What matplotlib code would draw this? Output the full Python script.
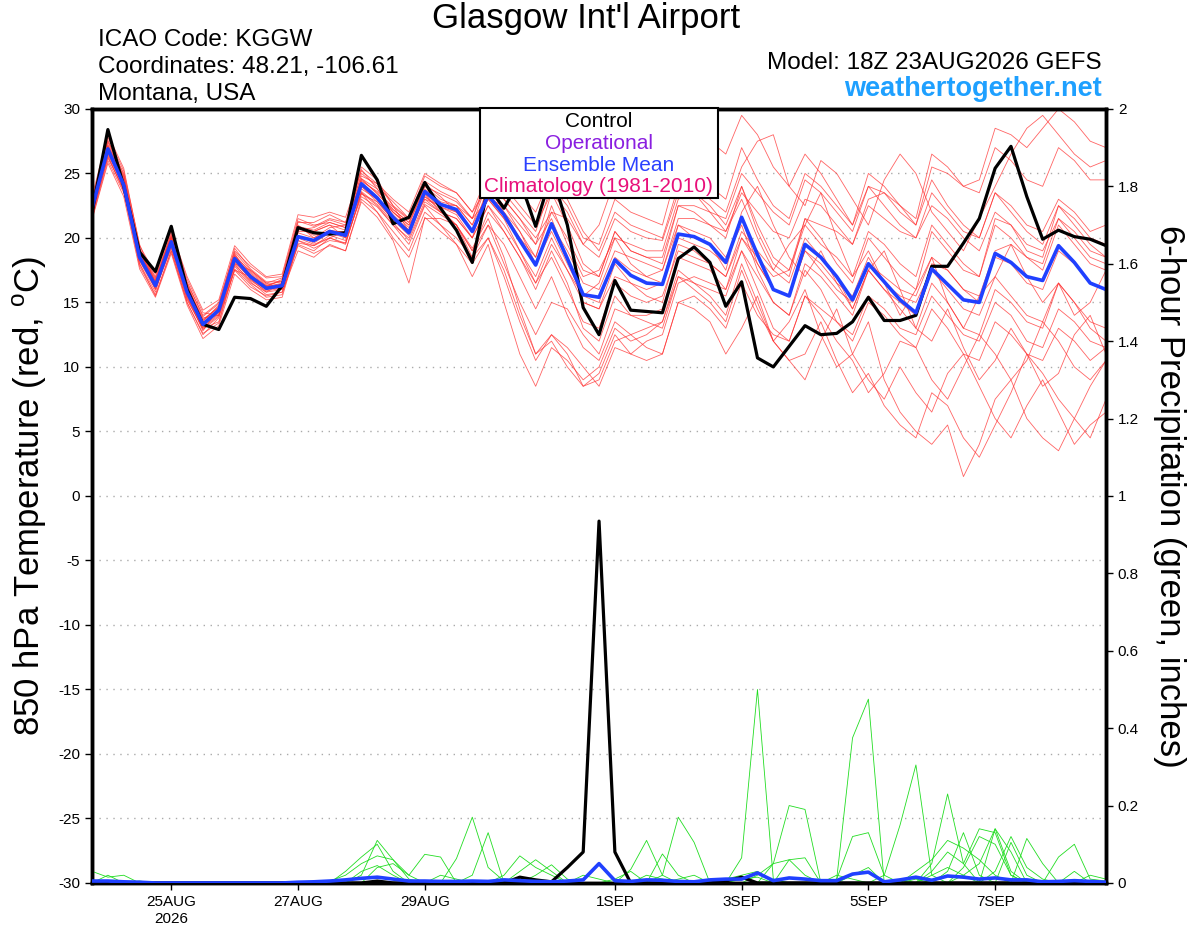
import numpy as np
import pandas as pd
import matplotlib
matplotlib.use('Agg')
import matplotlib.pyplot as plt
from matplotlib.patches import Rectangle

plt.rcParams['font.family'] = ['Liberation Sans', 'DejaVu Sans']
plt.rcParams['axes.unicode_minus'] = False

# 6-hourly GEFS times, 18Z 23AUG2026 -> 18Z 08SEP2026
times = pd.date_range('2026-08-23 18:00', periods=65, freq='6h')

tick_days = ['2026-08-25', '2026-08-27', '2026-08-29', '2026-09-01',
             '2026-09-03', '2026-09-05', '2026-09-07']
tick_labels = ['25AUG\n2026', '27AUG', '29AUG', '1SEP', '3SEP', '5SEP', '7SEP']

# ensemble mean 850 hPa temperature (C)
mean_temp = [22.3, 26.9, 24.1, 18.5, 16.3, 19.7, 15.8, 13.3, 14.4, 18.4, 17.0, 16.1, 16.3,
             20.1, 19.8, 20.5, 20.2, 24.2, 23.1, 21.6, 20.4, 23.6, 22.6, 22.2, 20.5, 23.3,
             21.8, 19.8, 17.9, 21.1, 18.4, 15.6, 15.4, 18.3, 17.1, 16.5, 16.4, 20.3, 20.1,
             19.5, 18.1, 21.6, 18.7, 16.0, 15.5, 19.5, 18.5, 17.0, 15.2, 18.0, 16.6, 15.2,
             14.2, 17.6, 16.4, 15.2, 15.0, 18.8, 18.1, 17.0, 16.7, 19.4, 18.1, 16.5, 16.0]

# control run 850 hPa temperature (C)
ctrl_temp = [22.0, 28.4, 24.0, 18.9, 17.4, 20.9, 16.0, 13.3, 12.9, 15.4, 15.3, 14.7, 16.3,
             20.8, 20.4, 20.3, 20.4, 26.4, 24.5, 21.1, 21.6, 24.3, 22.3, 20.6, 18.1, 24.0,
             22.3, 24.5, 20.9, 25.0, 21.0, 14.6, 12.5, 16.7, 14.4, 14.3, 14.2, 18.4, 19.3,
             18.1, 14.7, 16.6, 10.7, 10.0, 11.6, 13.2, 12.5, 12.6, 13.5, 15.4, 13.6, 13.6,
             14.0, 17.8, 17.8, 19.6, 21.5, 25.4, 27.1, 23.2, 19.9, 20.6, 20.1, 19.9, 19.4]

# individual members (C)
member_temp = [
    [22.8, 27.5, 25.0, 19.2, 17.0, 20.3, 16.5, 14.0, 15.0, 19.0, 17.8, 16.9, 17.0,
     21.5, 21.0, 21.2, 20.8, 25.0, 24.0, 22.8, 21.5, 24.8, 24.0, 23.5, 22.0, 25.0,
     24.0, 22.5, 21.0, 23.5, 22.0, 19.5, 18.5, 21.5, 20.5, 20.0, 19.8, 23.5, 24.0,
     23.0, 22.0, 25.5, 27.5, 28.0, 24.0, 22.5, 26.0, 25.0, 23.0, 21.0, 24.5, 26.5,
     25.0, 22.0, 20.5, 19.0, 21.5, 24.0, 26.5, 28.5, 29.5, 28.0, 26.5, 25.5, 26.0],
    [21.5, 26.0, 23.5, 18.0, 15.5, 19.0, 15.0, 12.5, 13.8, 17.5, 16.2, 15.5, 15.8,
     19.0, 18.5, 19.5, 19.0, 23.0, 22.0, 20.5, 19.0, 22.0, 21.0, 20.0, 18.5, 21.0,
     19.5, 17.0, 14.5, 17.0, 14.0, 11.5, 10.5, 13.5, 12.5, 11.5, 11.0, 15.0, 14.5,
     13.5, 11.0, 13.0, 15.5, 12.0, 10.5, 9.0, 12.0, 14.5, 11.0, 9.0, 7.5, 10.0,
     8.0, 6.5, 9.5, 11.0, 8.5, 6.0, 4.5, 7.0, 9.0, 6.5, 4.0, 5.5, 6.5],
    [22.0, 27.0, 24.5, 18.8, 16.0, 19.5, 16.2, 13.8, 14.0, 18.0, 17.5, 16.5, 16.0,
     20.5, 20.5, 21.0, 20.0, 24.5, 23.5, 22.0, 21.0, 23.0, 22.0, 21.5, 20.0, 24.0,
     23.0, 21.5, 19.5, 23.5, 21.0, 18.0, 17.0, 20.5, 19.0, 18.5, 18.0, 22.5, 22.0,
     21.0, 20.0, 24.0, 20.5, 18.0, 17.0, 21.5, 20.0, 18.0, 16.5, 20.0, 18.5, 17.0,
     16.0, 20.5, 19.0, 17.5, 17.0, 21.0, 20.0, 18.5, 18.0, 21.5, 20.0, 18.5, 18.0],
    [22.5, 26.5, 24.0, 18.0, 15.8, 19.8, 15.5, 12.8, 14.5, 18.8, 16.8, 15.8, 16.5,
     20.0, 19.5, 20.0, 20.5, 23.5, 22.5, 21.0, 19.5, 22.5, 21.0, 19.5, 17.0, 19.5,
     15.0, 11.0, 8.5, 11.5, 10.5, 9.0, 10.0, 13.0, 12.0, 12.5, 13.5, 17.0, 16.5,
     16.0, 15.5, 19.0, 17.0, 15.0, 14.0, 18.0, 17.0, 15.5, 14.0, 17.5, 16.0, 14.5,
     13.0, 16.5, 15.0, 13.0, 12.5, 16.0, 15.0, 13.5, 13.0, 16.5, 15.0, 13.5, 13.0],
    [22.2, 27.2, 24.8, 19.0, 16.8, 20.0, 16.0, 13.5, 14.8, 18.5, 17.2, 16.2, 16.8,
     21.0, 20.0, 20.8, 21.0, 24.0, 23.0, 22.0, 21.0, 24.0, 23.0, 22.5, 21.0, 24.5,
     23.5, 22.0, 20.5, 24.0, 22.5, 20.0, 19.5, 23.0, 22.0, 21.5, 21.0, 25.5, 25.0,
     24.0, 23.0, 27.0, 24.5, 22.5, 21.5, 25.0, 24.0, 22.5, 21.0, 25.0, 24.0, 22.5,
     21.5, 26.5, 25.5, 24.0, 24.5, 28.5, 28.0, 27.0, 28.5, 30.0, 29.0, 27.5, 27.0],
    [21.8, 26.2, 23.8, 18.2, 16.0, 19.2, 15.2, 13.0, 13.5, 17.8, 16.5, 15.8, 16.0,
     19.5, 19.0, 20.0, 19.5, 23.5, 22.0, 20.0, 18.5, 21.5, 21.5, 21.0, 19.0, 22.0,
     20.5, 18.5, 16.0, 19.0, 16.5, 13.0, 12.0, 15.5, 14.0, 13.5, 13.0, 17.0, 16.0,
     15.0, 13.5, 17.5, 14.5, 12.0, 13.5, 16.0, 12.5, 10.0, 11.0, 13.5, 9.0, 6.5,
     5.0, 4.0, 5.5, 1.5, 4.0, 7.5, 9.0, 6.0, 4.5, 3.5, 6.0, 8.5, 10.5],
    [23.0, 27.8, 25.2, 19.5, 16.5, 20.5, 16.8, 14.2, 14.0, 17.5, 17.0, 16.0, 16.2,
     20.8, 20.2, 20.5, 20.5, 25.5, 24.5, 22.5, 20.5, 23.0, 22.5, 22.5, 21.5, 23.0,
     22.5, 21.0, 19.5, 21.5, 18.5, 15.0, 14.5, 18.0, 16.5, 15.5, 15.0, 19.5, 19.0,
     18.0, 17.0, 20.5, 19.0, 17.5, 16.5, 20.0, 18.5, 17.0, 14.5, 17.5, 16.0, 15.0,
     14.0, 18.0, 17.5, 16.0, 15.5, 19.0, 19.5, 18.5, 17.5, 21.0, 19.5, 18.0, 17.5],
    [22.0, 26.8, 24.2, 18.4, 16.2, 19.5, 15.8, 13.2, 14.2, 18.2, 16.8, 16.0, 16.4,
     20.2, 19.6, 20.4, 20.0, 24.0, 22.8, 21.4, 20.2, 23.2, 22.2, 21.0, 19.2, 21.5,
     18.5, 14.5, 11.0, 12.5, 11.5, 10.0, 8.5, 11.5, 11.0, 12.0, 12.5, 16.5, 17.0,
     16.5, 16.0, 20.0, 18.5, 17.0, 17.5, 21.5, 21.0, 20.5, 19.5, 23.0, 23.5, 22.0,
     21.0, 24.5, 22.5, 21.0, 20.0, 23.5, 22.0, 20.5, 19.5, 22.5, 21.0, 19.5, 18.5],
    [22.6, 27.0, 24.4, 18.8, 16.6, 20.2, 16.2, 13.6, 14.6, 19.2, 17.6, 16.6, 16.6,
     21.2, 21.2, 21.8, 21.2, 24.8, 24.2, 22.5, 21.5, 24.2, 23.2, 22.0, 20.5, 24.0,
     22.0, 20.0, 18.5, 22.5, 19.5, 17.0, 17.5, 20.0, 18.0, 17.0, 16.5, 21.0, 20.0,
     19.5, 17.5, 22.0, 24.0, 21.0, 18.5, 17.0, 19.0, 16.5, 14.5, 17.5, 19.0, 16.0,
     13.0, 12.0, 14.5, 11.5, 9.0, 10.5, 13.0, 11.0, 8.5, 9.5, 12.5, 14.0, 11.0],
    [21.6, 26.4, 23.6, 17.8, 15.6, 19.0, 15.0, 12.6, 13.4, 17.6, 16.4, 15.4, 15.6,
     19.8, 19.4, 20.2, 19.8, 23.2, 22.4, 21.0, 20.0, 22.8, 22.0, 21.5, 20.0, 22.5,
     21.0, 19.0, 17.0, 20.0, 17.5, 15.0, 14.5, 17.0, 16.5, 16.0, 16.5, 20.0, 19.5,
     19.0, 18.0, 21.5, 18.0, 16.0, 15.5, 19.0, 18.0, 16.5, 15.5, 18.5, 16.5, 15.5,
     15.0, 17.5, 16.0, 14.5, 14.0, 17.0, 15.5, 14.0, 13.5, 16.5, 15.0, 13.0, 12.0],
    [22.4, 27.2, 24.6, 19.0, 16.4, 19.8, 16.4, 13.4, 14.4, 18.6, 17.4, 16.4, 16.6,
     20.6, 20.8, 21.4, 21.0, 24.4, 23.6, 22.4, 21.4, 24.4, 23.6, 23.0, 21.5, 24.5,
     23.0, 21.5, 20.0, 22.0, 21.5, 19.5, 21.0, 24.5, 24.0, 25.0, 26.0, 28.5, 29.0,
     27.5, 26.5, 29.5, 28.0, 25.5, 24.0, 26.5, 25.0, 23.0, 21.0, 24.0, 22.5, 21.0,
     20.0, 23.5, 22.0, 20.5, 20.0, 23.5, 22.5, 21.0, 20.5, 23.0, 22.0, 20.5, 21.0],
    [21.9, 26.6, 23.9, 18.6, 16.4, 19.6, 15.6, 13.1, 14.1, 18.1, 16.9, 16.1, 16.1,
     19.8, 19.2, 19.8, 19.6, 23.6, 22.6, 21.2, 19.8, 22.6, 21.8, 21.0, 19.0, 21.0,
     18.0, 15.0, 12.5, 15.0, 14.5, 12.5, 11.0, 14.5, 14.0, 14.0, 14.5, 18.5, 18.0,
     17.5, 16.0, 19.0, 16.0, 13.0, 12.0, 15.5, 14.0, 12.0, 10.5, 8.0, 9.5, 12.0,
     11.5, 9.0, 7.5, 10.0, 12.5, 11.0, 9.0, 10.5, 13.5, 12.0, 10.0, 9.0, 10.5],
    [23.2, 28.0, 25.4, 19.4, 17.2, 20.6, 17.0, 14.4, 15.2, 19.4, 18.0, 17.0, 17.2,
     21.8, 21.6, 22.0, 21.6, 25.2, 24.2, 23.0, 22.0, 25.0, 24.2, 23.5, 22.0, 24.0,
     22.5, 20.5, 18.0, 21.0, 19.0, 16.5, 16.0, 19.0, 18.5, 18.0, 17.5, 21.5, 21.5,
     21.0, 20.5, 23.5, 22.0, 20.5, 20.0, 23.0, 22.5, 21.0, 19.5, 22.5, 21.5, 20.5,
     20.0, 22.5, 21.5, 20.0, 19.0, 22.0, 21.0, 19.5, 19.0, 21.5, 20.5, 19.0, 18.5],
    [22.1, 26.9, 24.2, 18.6, 16.3, 19.4, 15.4, 13.0, 14.0, 18.0, 16.6, 15.6, 15.8,
     19.4, 18.8, 19.4, 19.0, 22.8, 21.6, 19.8, 16.5, 21.6, 20.5, 19.5, 18.0, 20.0,
     17.5, 14.0, 11.0, 12.0, 10.0, 8.5, 9.0, 12.0, 12.5, 13.0, 13.5, 17.5, 16.5,
     15.5, 14.0, 18.0, 15.0, 12.0, 10.5, 11.0, 13.5, 10.5, 8.0, 9.5, 7.0, 5.5,
     4.5, 8.0, 7.0, 4.5, 3.0, 5.5, 8.0, 11.0, 9.5, 7.5, 6.0, 4.5, 7.5],
    [22.7, 27.4, 24.7, 18.9, 16.7, 20.0, 16.4, 13.6, 14.7, 18.7, 17.3, 16.3, 16.7,
     20.7, 20.5, 21.0, 20.6, 24.6, 23.4, 22.2, 21.2, 23.8, 22.8, 22.5, 21.0, 23.5,
     22.0, 20.5, 18.5, 22.0, 20.0, 17.5, 17.0, 20.5, 19.0, 18.5, 18.5, 22.5, 22.5,
     22.0, 21.5, 25.0, 23.5, 22.0, 21.0, 24.5, 23.5, 22.0, 20.5, 24.0, 23.5, 22.5,
     21.0, 25.5, 25.0, 24.0, 23.5, 27.0, 26.0, 24.5, 24.0, 27.0, 26.0, 24.5, 24.5],
    [21.7, 26.3, 23.7, 18.3, 16.1, 19.3, 15.3, 12.9, 13.9, 17.9, 16.7, 15.9, 16.1,
     20.0, 19.8, 20.6, 20.2, 23.8, 23.0, 21.6, 20.6, 23.4, 22.4, 22.0, 20.5, 23.0,
     21.5, 20.0, 18.0, 20.5, 18.0, 15.5, 15.0, 18.5, 17.5, 17.0, 17.5, 21.0, 20.5,
     20.0, 18.5, 21.0, 17.5, 15.0, 14.0, 17.5, 16.0, 13.5, 12.5, 15.5, 14.5, 13.0,
     12.5, 15.5, 14.0, 12.5, 12.0, 15.0, 14.0, 12.0, 11.5, 14.5, 13.5, 12.0, 11.5],
    [22.9, 27.6, 24.9, 19.1, 16.9, 20.1, 16.6, 13.9, 14.9, 18.9, 17.5, 16.5, 16.9,
     21.3, 20.9, 21.5, 21.2, 25.3, 23.8, 22.0, 20.8, 23.6, 22.6, 22.0, 20.5, 23.0,
     21.5, 19.0, 16.5, 19.5, 17.5, 15.5, 16.5, 20.0, 19.5, 19.0, 19.0, 23.0, 23.5,
     22.5, 21.0, 24.0, 21.0, 18.5, 17.5, 21.0, 19.5, 18.5, 17.0, 20.5, 19.5, 18.0,
     17.0, 21.0, 19.5, 18.0, 17.0, 21.5, 21.0, 19.0, 18.5, 22.5, 21.5, 20.0, 19.5],
    [22.3, 26.7, 24.3, 18.7, 16.5, 19.9, 15.9, 13.4, 14.3, 18.3, 17.1, 16.3, 16.4,
     20.4, 20.0, 20.6, 20.4, 24.2, 23.2, 21.8, 20.6, 23.4, 22.0, 21.0, 18.5, 20.0,
     17.0, 13.5, 10.5, 12.5, 11.0, 8.5, 9.5, 12.5, 11.0, 10.5, 11.0, 15.0, 15.5,
     14.5, 13.0, 16.5, 14.0, 12.5, 12.0, 15.5, 14.5, 13.5, 12.0, 15.0, 14.0, 12.5,
     11.5, 14.5, 13.0, 11.0, 10.5, 13.5, 12.5, 11.0, 10.5, 13.0, 12.0, 10.5, 11.5],
    [22.5, 27.1, 24.5, 18.9, 16.6, 20.1, 16.1, 13.7, 14.6, 18.6, 17.1, 16.2, 16.5,
     20.9, 20.6, 21.2, 20.8, 24.6, 23.8, 22.2, 21.2, 24.0, 23.4, 22.8, 21.5, 25.0,
     24.5, 23.5, 22.0, 25.0, 23.0, 20.5, 19.0, 22.0, 21.0, 20.5, 20.0, 24.0, 23.5,
     22.0, 20.5, 23.0, 20.0, 17.5, 19.5, 21.0, 23.5, 20.0, 17.0, 19.0, 16.5, 14.0,
     16.0, 18.5, 15.0, 13.0, 15.5, 17.0, 19.5, 17.0, 15.0, 16.5, 14.0, 15.0, 17.5],
    [21.4, 25.8, 23.2, 17.6, 15.4, 18.8, 14.8, 12.2, 13.2, 17.2, 16.0, 15.2, 15.4,
     19.6, 19.4, 20.0, 19.6, 23.4, 22.8, 21.4, 20.4, 23.2, 22.4, 21.8, 20.0, 22.5,
     20.5, 18.5, 16.5, 18.5, 16.0, 13.5, 13.0, 16.5, 15.5, 15.0, 15.5, 19.0, 18.5,
     18.0, 17.0, 20.0, 18.0, 16.0, 15.5, 19.0, 17.5, 16.0, 15.0, 18.0, 17.0, 16.0,
     15.5, 18.5, 17.5, 16.0, 15.0, 18.5, 18.0, 16.5, 16.0, 19.0, 18.0, 16.5, 16.0],
]

# 6-hour precipitation (inches): ensemble mean and control
mean_precip = [0.005, 0.005, 0.003, 0.002, 0, 0, 0, 0, 0, 0, 0, 0, 0,
               0.002, 0.003, 0.005, 0.008, 0.012, 0.015, 0.01, 0.005, 0.005, 0.004, 0.004, 0.005, 0.004,
               0.008, 0.006, 0.004, 0.003, 0.005, 0.008, 0.05, 0.006, 0.004, 0.008, 0.007, 0.004, 0.003,
               0.008, 0.01, 0.01, 0.026, 0.006, 0.013, 0.01, 0.006, 0.006, 0.023, 0.028, 0.003, 0.008,
               0.015, 0.007, 0.018, 0.015, 0.01, 0.013, 0.008, 0.008, 0.003, 0.004, 0.006, 0.004, 0.002]

ctrl_precip = [0, 0, 0, 0, 0, 0, 0, 0, 0, 0, 0, 0, 0,
               0, 0, 0, 0, 0, 0.005, 0, 0, 0, 0, 0, 0, 0,
               0, 0.015, 0.008, 0.003, 0.04, 0.08, 0.935, 0.08, 0, 0, 0, 0, 0,
               0, 0.005, 0.015, 0, 0, 0, 0, 0, 0, 0, 0, 0, 0,
               0, 0, 0, 0, 0, 0, 0, 0, 0, 0, 0, 0, 0]

# member precipitation, nonzero 6-h steps only: (step, inches)
member_precip = [
    [(0, 0.03), (1, 0.015), (2, 0.02), (17, 0.02), (18, 0.11), (19, 0.06), (20, 0.01),
     (41, 0.065), (42, 0.50), (43, 0.01), (55, 0.02), (56, 0.05), (57, 0.14), (58, 0.03)],
    [(1, 0.02), (3, 0.005), (16, 0.03), (17, 0.067), (18, 0.10), (19, 0.03), (23, 0.063),
     (24, 0.17), (25, 0.04), (26, 0.005), (47, 0.01), (48, 0.375), (49, 0.475)],
    [(15, 0.005), (16, 0.02), (17, 0.05), (18, 0.07), (19, 0.06), (20, 0.02), (21, 0.074),
     (22, 0.067), (36, 0.02), (37, 0.17), (38, 0.105), (54, 0.03), (55, 0.13), (56, 0.02)],
    [(17, 0.03), (18, 0.045), (19, 0.02), (24, 0.02), (25, 0.13), (43, 0.05), (44, 0.20),
     (45, 0.19), (57, 0.14), (58, 0.08)],
    [(18, 0.04), (19, 0.05), (20, 0.02), (26, 0.02), (27, 0.07), (28, 0.04), (29, 0.02),
     (34, 0.035), (35, 0.11), (36, 0.02), (50, 0.02), (51, 0.15), (52, 0.305), (53, 0.02)],
    [(27, 0.03), (28, 0.06), (29, 0.03), (36, 0.075), (37, 0.02), (47, 0.01), (48, 0.12),
     (49, 0.13), (50, 0.02), (53, 0.05), (54, 0.23), (55, 0.05)],
    [(28, 0.02), (29, 0.047), (30, 0.01), (33, 0.01), (34, 0.03), (44, 0.06), (45, 0.065),
     (58, 0.105), (59, 0.02), (61, 0.067), (62, 0.10), (63, 0.01), (64, 0.005)],
    [(22, 0.02), (23, 0.01), (31, 0.02), (32, 0.01), (40, 0.01), (41, 0.02), (42, 0.03),
     (52, 0.03), (53, 0.06), (54, 0.11), (55, 0.09), (56, 0.06), (57, 0.02), (59, 0.115),
     (60, 0.05)],
    [(35, 0.02), (36, 0.01), (42, 0.02), (43, 0.05), (44, 0.06), (45, 0.02), (48, 0.02),
     (49, 0.04), (52, 0.01), (55, 0.04), (56, 0.12), (57, 0.10), (58, 0.02), (63, 0.02),
     (64, 0.01)],
    [(37, 0.01), (38, 0.02), (41, 0.01), (42, 0.015), (51, 0.01), (53, 0.03), (54, 0.08),
     (55, 0.05), (56, 0.14), (57, 0.13), (58, 0.02), (62, 0.03)],
    [(47, 0.02), (48, 0.01), (53, 0.02), (54, 0.04), (55, 0.02), (57, 0.03), (58, 0.12),
     (59, 0.04), (60, 0.01)],
]


def main():
    fig = plt.figure(figsize=(12, 9.27), dpi=100)
    ax = fig.add_axes([0.0767, 0.0475, 0.845, 0.835])
    ax2 = ax.twinx()

    for m in member_temp:
        ax.plot(times, m, color='#ff3030', lw=0.6, alpha=0.75, zorder=2)

    for m in member_precip:
        p = np.zeros(len(times))
        for k, v in m:
            p[k] = v
        ax2.plot(times, p, color='#22dd22', lw=0.6, zorder=2)

    ax2.plot(times, ctrl_precip, color='black', lw=2.3, zorder=4)
    ax2.plot(times, mean_precip, color='#2040ff', lw=2.6, zorder=5)

    ax.plot(times, ctrl_temp, color='black', lw=2.3, zorder=4)
    ax.plot(times, mean_temp, color='#2040ff', lw=2.6, zorder=5)

    ax.set_xlim(times[0], times[-1])
    ax.set_ylim(-30, 30)
    ax2.set_ylim(0, 2)
    ax.set_yticks(np.arange(-30, 31, 5))
    ax2.set_yticks(np.arange(0, 2.01, 0.2))
    ax2.set_yticklabels(['0', '0.2', '0.4', '0.6', '0.8', '1', '1.2', '1.4', '1.6', '1.8', '2'])
    ax.set_xticks(pd.to_datetime(tick_days))
    ax.set_xticklabels(tick_labels)

    for y in range(-25, 30, 5):
        ax.axhline(y, color='#aaaaaa', lw=1.0, ls=(0, (1, 4)), zorder=1)

    for a in (ax, ax2):
        for s in a.spines.values():
            s.set_linewidth(2.5)
        a.tick_params(labelsize=11, width=1, length=5, direction='out')
    ax.tick_params(axis='x', pad=4)

    ax.set_ylabel('850 hPa Temperature (red, $^{\\mathregular{o}}$C)', fontsize=25,
                  ha='center', va='center')
    ax.yaxis.set_label_coords(-0.061, 0.5)
    ax2.set_ylabel('6-hour Precipitation (green, inches)', fontsize=25, rotation=-90,
                   ha='center', va='center')
    ax2.yaxis.set_label_coords(1.063, 0.5)

    fig.text(0.488, 0.98, "Glasgow Int'l Airport", ha='center', va='center', fontsize=25)
    fig.text(0.082, 0.957, 'ICAO Code: KGGW', ha='left', va='center', fontsize=17.5)
    fig.text(0.082, 0.928, 'Coordinates: 48.21, -106.61', ha='left', va='center', fontsize=17.5)
    fig.text(0.082, 0.899, 'Montana, USA', ha='left', va='center', fontsize=17.5)
    fig.text(0.918, 0.932, 'Model: 18Z 23AUG2026 GEFS', ha='right', va='center', fontsize=17.5)
    fig.text(0.918, 0.904, 'weathertogether.net', ha='right', va='center', fontsize=19.5,
             fontweight='bold', color='#1ea0ff')

    # legend box
    fig.patches.append(Rectangle((0.4, 0.786), 0.198, 0.097, transform=fig.transFigure,
                                 facecolor='white', edgecolor='black', lw=1.5, zorder=10))
    leg = [('Control', 'black'), ('Operational', '#8a1ee0'),
           ('Ensemble Mean', '#2a40ff'), ('Climatology (1981-2010)', '#e8107a')]
    for n, (t, c) in enumerate(leg):
        fig.text(0.499, 0.869 - n * 0.0235, t, ha='center', va='center', fontsize=15,
                 color=c, zorder=11)

    fig.savefig('out.png', dpi=100)


if __name__ == '__main__':
    main()
